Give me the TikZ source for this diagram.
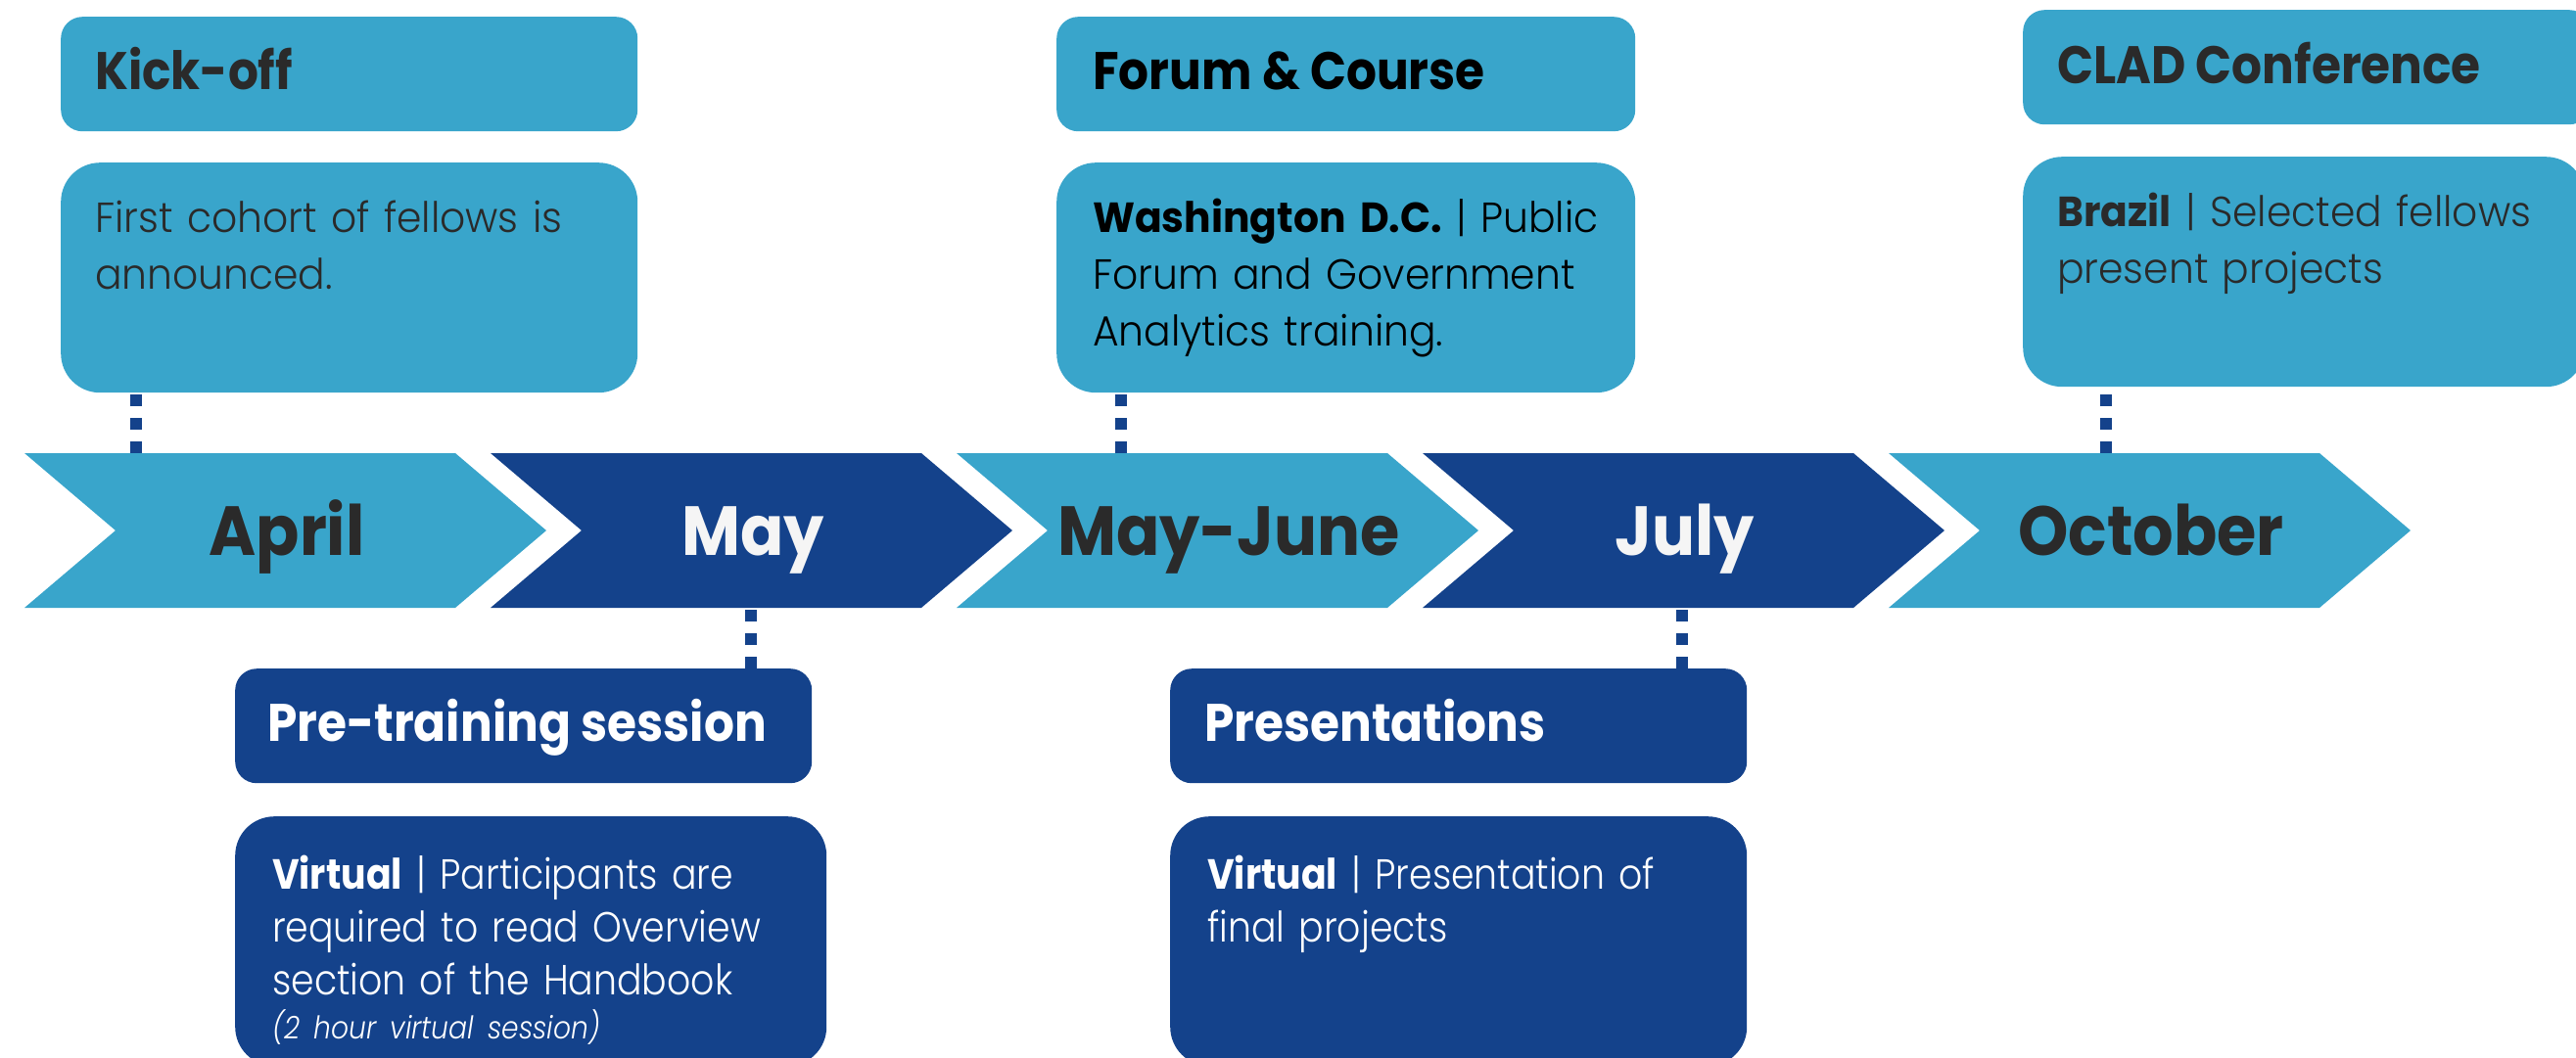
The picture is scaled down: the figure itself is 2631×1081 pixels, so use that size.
\documentclass[tikz,border=0pt]{standalone}
\usepackage{fontspec}
\setmainfont{Poppins}
\newfontfamily\headfont{Poppins Bold}[FakeStretch=0.9]
\newfontfamily\monthfont{Poppins Bold}[FakeStretch=0.92]
\newfontfamily\bodyfont{Poppins Light}[FakeStretch=0.95,BoldFont={Poppins Bold}]
\newfontfamily\lowfont{Poppins Light}[FakeStretch=0.88,BoldFont={Poppins Bold},ItalicFont={Poppins Light Italic}]
\definecolor{lightb}{RGB}{57,165,203}
\definecolor{darkb}{RGB}{20,66,139}
\definecolor{inkgray}{RGB}{42,42,42}
\definecolor{monwhite}{RGB}{245,245,245}
\begin{document}
\begin{tikzpicture}[x=1pt,y=-1pt,
	hbox/.style={rectangle,rounded corners=22pt,inner sep=0pt,anchor=north west,minimum height=117pt},
	bbox/.style={rectangle,rounded corners=40pt,inner sep=0pt,anchor=north west},
	headtxt/.style={anchor=base west,inner sep=0pt,font=\fontsize{54}{60}\headfont},
	bodytxt/.style={anchor=base west,inner sep=0pt,align=left,text width=600pt,font=\fontsize{43}{58}\bodyfont},
	lowtxt/.style={bodytxt,font=\fontsize{43}{54}\lowfont},
	month/.style={inner sep=0pt,text height=50pt,text depth=0pt,font=\fontsize{71}{80}\monthfont},
	dotline/.style={draw=darkb,line width=12pt,dash pattern=on 12pt off 12pt}]
	\useasboundingbox (0,0) rectangle (2631,1081);
	% chevrons
	\foreach \i/\mon/\fc/\tc/\dx in {0/April/lightb/inkgray/0,1/May/darkb/monwhite/0,2/May-June/lightb/inkgray/10,3/July/darkb/monwhite/0,4/October/lightb/inkgray/0}{
		\pgfmathsetmacro{\xa}{25+476*\i}
		\fill[\fc] (\xa,463) -- ++(440,0) -- ++(93,79) -- ++(-93,79) -- ++(-440,0) -- ++(93,-79) -- cycle;
		\node[month,text=\tc] (m\i) at (\xa+268+\dx,542) {\mon};
	}
	% boxes above
	\node[hbox,fill=lightb,minimum width=589pt] (kick) at (62,17) {};
	\node[bbox,fill=lightb,minimum width=589pt,minimum height=235pt] (cohort) at (62,166) {};
	\node[hbox,fill=lightb,minimum width=591pt] (forum) at (1079,17) {};
	\node[bbox,fill=lightb,minimum width=591pt,minimum height=235pt] (wash) at (1079,166) {};
	\node[hbox,fill=lightb,minimum width=580pt] (clad) at (2066,10) {};
	\node[bbox,fill=lightb,minimum width=574pt,minimum height=235pt] (brazil) at (2066,160) {};
	% boxes below
	\node[hbox,fill=darkb,minimum width=589pt] (pre) at (240,683) {};
	\node[bbox,fill=darkb,minimum width=604pt,minimum height=255pt] (virtA) at (240,834) {};
	\node[hbox,fill=darkb,minimum width=589pt] (pres) at (1195,683) {};
	\node[bbox,fill=darkb,minimum width=589pt,minimum height=255pt] (virtB) at (1195,834) {};
	% texts
	\node[headtxt,text=inkgray] (kickT) at ([shift={(35,75)}]kick.north west) {Kick-off};
	\node[bodytxt,text=inkgray] (cohortT) at ([shift={(35,71)}]cohort.north west) {First cohort of fellows is\\announced.};
	\node[headtxt,text=black] (forumT) at ([shift={(37,75)}]forum.north west) {Forum \& Course};
	\node[bodytxt,text=black] (washT) at ([shift={(37,71)}]wash.north west) {\textbf{Washington D.C.} | Public\\Forum and Government\\Analytics training.};
	\node[headtxt,text=inkgray] (cladT) at ([shift={(35,75)}]clad.north west) {CLAD Conference};
	\node[bodytxt,text=inkgray] (brazilT) at ([shift={(35,71)}]brazil.north west) {\textbf{Brazil} | Selected fellows\\present projects};
	\node[headtxt,text=white] (preT) at ([shift={(33,74)}]pre.north west) {Pre-training session};
	\node[lowtxt,text=white] (virtAT) at ([shift={(38,74)}]virtA.north west) {\textbf{Virtual} | Participants are\\required to read Overview\\section of the Handbook\\[-9pt]{\fontsize{32}{40}\selectfont\itshape (2 hour virtual session)}};
	\node[headtxt,text=white] (presT) at ([shift={(35,74)}]pres.north west) {Presentations};
	\node[lowtxt,text=white] (virtBT) at ([shift={(38,74)}]virtB.north west) {\textbf{Virtual} | Presentation of\\final projects};
	% dotted links
	\coordinate (t0) at (139,463);
	\coordinate (t2) at (1145,463);
	\coordinate (t4) at (2151,463);
	\coordinate (b1) at (767,621);
	\coordinate (b3) at (1718,621);
	\draw[dotline] (t0) -- (t0 |- cohort.south);
	\draw[dotline] (t2) -- (t2 |- wash.south);
	\draw[dotline] (t4) -- (t4 |- brazil.south);
	\draw[dotline] (b1 |- pre.north) -- (b1);
	\draw[dotline] (b3 |- pres.north) -- (b3);
\end{tikzpicture}
\end{document}
